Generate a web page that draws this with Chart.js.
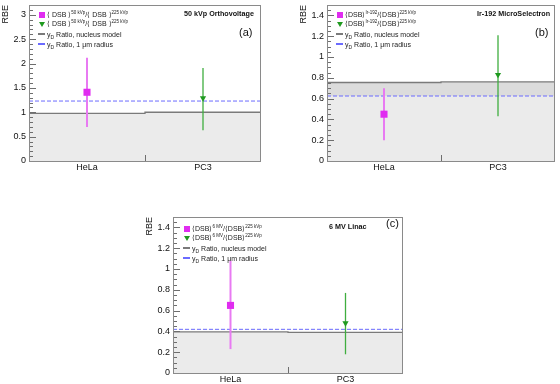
<!DOCTYPE html>
<html lang="en">
<head>
  <meta charset="UTF-8" />
  <title>RBE - DSB ratios</title>
  <script src="https://cdn.jsdelivr.net/npm/chart.js"></script>
  <style>
    body { margin: 0; background: #fff; font-family: 'Liberation Sans', Arial, sans-serif; }
    #wrap { position: relative; width: 560px; height: 384px; overflow: hidden; background: #fff; }
    canvas { position: absolute; }
    .lbl { position: absolute; white-space: nowrap; color: #111; line-height: 1; }
    .ttl { font-size: 7.2px; font-weight: bold; }
    .tag { font-size: 11px; }
    .leg { position: absolute; font-size: 7px; color: #222; white-space: nowrap; }
    .leg div { position: absolute; left: 0; height: 8px; display: flex; align-items: center; }
    .leg .sym { width: 9px; flex: none; display: flex; justify-content: center; align-items: center; margin-right: 1px; }
    .leg sup { font-size: 4.5px; vertical-align: 3px; line-height: 0; }
    .leg sub { font-size: 5px; vertical-align: -2px; line-height: 0; }
    .sq { width: 6px; height: 6px; background: #e02cf0; }
    .tri { width: 0; height: 0; border-left: 3px solid transparent; border-right: 3px solid transparent; border-top: 5px solid #1f9a1f; }
    .ln { width: 7px; height: 1.5px; }
    .grey { background: #7a7a7a; }
    .blue { background: #6b6bff; }
  </style>
</head>
<body>
<div id="wrap">
  <canvas id="chartA" width="266" height="184" style="left:0;top:0"></canvas>
  <canvas id="chartB" width="262" height="184" style="left:298px;top:0"></canvas>
  <canvas id="chartC" width="264" height="184" style="left:144px;top:212px"></canvas>

  <div class="leg" style="left:37px;top:11px">
    <div style="top:0"><span class="sym"><i class="sq"></i></span><span>⟨ DSB ⟩<sup>50 kVp</sup>/⟨ DSB ⟩<sup>225 kVp</sup></span></div>
    <div style="top:9px"><span class="sym"><i class="tri"></i></span><span>⟨ DSB ⟩<sup>50 kVp</sup>/⟨ DSB ⟩<sup>225 kVp</sup></span></div>
    <div style="top:19px"><span class="sym"><i class="ln grey"></i></span><span>y<sub>D</sub> Ratio, nucleus model</span></div>
    <div style="top:29px"><span class="sym"><i class="ln blue"></i></span><span>y<sub>D</sub> Ratio, 1 μm radius</span></div>
  </div>
  <div class="lbl ttl" style="left:184px;top:10px">50 kVp Orthovoltage</div>
  <div class="lbl tag" style="left:239px;top:27px">(a)</div>

  <div class="leg" style="left:335px;top:11px">
    <div style="top:0"><span class="sym"><i class="sq"></i></span><span>⟨DSB⟩<sup>Ir-192</sup>/⟨DSB⟩<sup>225 kVp</sup></span></div>
    <div style="top:9px"><span class="sym"><i class="tri"></i></span><span>⟨DSB⟩<sup>Ir-192</sup>/⟨DSB⟩<sup>225 kVp</sup></span></div>
    <div style="top:19px"><span class="sym"><i class="ln grey"></i></span><span>y<sub>D</sub> Ratio, nucleus model</span></div>
    <div style="top:29px"><span class="sym"><i class="ln blue"></i></span><span>y<sub>D</sub> Ratio, 1 μm radius</span></div>
  </div>
  <div class="lbl ttl" style="left:477px;top:10px">Ir-192 MicroSelectron</div>
  <div class="lbl tag" style="left:535px;top:27px">(b)</div>

  <div class="leg" style="left:182px;top:225px">
    <div style="top:0"><span class="sym"><i class="sq"></i></span><span>⟨DSB⟩<sup>6 MV</sup>/⟨DSB⟩<sup>225 kVp</sup></span></div>
    <div style="top:9px"><span class="sym"><i class="tri"></i></span><span>⟨DSB⟩<sup>6 MV</sup>/⟨DSB⟩<sup>225 kVp</sup></span></div>
    <div style="top:19px"><span class="sym"><i class="ln grey"></i></span><span>y<sub>D</sub> Ratio, nucleus model</span></div>
    <div style="top:29px"><span class="sym"><i class="ln blue"></i></span><span>y<sub>D</sub> Ratio, 1 μm radius</span></div>
  </div>
  <div class="lbl ttl" style="left:329px;top:223px">6 MV Linac</div>
  <div class="lbl tag" style="left:386px;top:218px">(c)</div>
</div>

<script>
  const categories = ['HeLa', 'PC3'];

  // (a) 50 kVp orthovoltage
  const rbeA = [1.41, 1.29];
  const errLowA = [0.70, 0.63];
  const errHighA = [2.12, 1.91];
  const nucleusA = [0.975, 1.0];
  const micronA = 1.23;
  const yTicksA = [0, 0.5, 1, 1.5, 2, 2.5, 3];

  // (b) Ir-192 microSelectron
  const rbeB = [0.45, 0.83];
  const errLowB = [0.20, 0.43];
  const errHighB = [0.70, 1.21];
  const nucleusB = [0.755, 0.76];
  const micronB = 0.625;
  const yTicksB = [0, 0.2, 0.4, 0.6, 0.8, 1, 1.2, 1.4];

  // (c) 6 MV linac
  const rbeC = [0.65, 0.48];
  const errLowC = [0.23, 0.18];
  const errHighC = [1.08, 0.77];
  const nucleusC = [0.395, 0.39];
  const micronC = 0.42;
  const yTicksC = [0, 0.2, 0.4, 0.6, 0.8, 1, 1.2, 1.4];

  const FONT = "'Liberation Sans', Arial, sans-serif";

  // histogram-style steps: one flat segment per category bin
  function steps(vals) {
    const pts = [];
    vals.forEach((v, i) => { pts.push({ x: i, y: v }, { x: i + 1, y: v }); });
    return pts;
  }

  // frame box + ROOT-like inner ticks
  const framePlugin = {
    id: 'frame',
    afterDatasetsDraw(chart, args, opts) {
      const { ctx, chartArea: a, scales: { x, y } } = chart;
      ctx.save();
      ctx.strokeStyle = '#6e6e6e';
      ctx.lineWidth = 1;
      ctx.beginPath();
      const n = Math.round(y.max / opts.minor);
      for (let k = 0; k <= n; k++) {
        const v = k * opts.minor;
        const major = opts.major.some(m => Math.abs(m - v) < 1e-6);
        const py = Math.round(y.getPixelForValue(v)) + 0.5;
        ctx.moveTo(a.left, py);
        ctx.lineTo(a.left + (major ? 7 : 4), py);
      }
      for (let i = 1; i < categories.length; i++) {
        const px = Math.round(x.getPixelForValue(i)) + 0.5;
        ctx.moveTo(px, a.bottom);
        ctx.lineTo(px, a.bottom - 6);
      }
      ctx.stroke();
      ctx.strokeStyle = '#8a8a8a';
      ctx.strokeRect(Math.round(a.left) + 0.5, Math.round(a.top) + 0.5, Math.round(a.width) - 1, Math.round(a.height));
      ctx.restore();
    }
  };

  function makePanel(id, p) {
    const micronPts = steps(categories.map(() => p.micron));
    new Chart(document.getElementById(id), {
      type: 'line',
      data: {
        datasets: [
          { data: steps(p.nucleus), borderWidth: 0, pointRadius: 0, fill: 'origin', backgroundColor: '#ebebeb', order: 7 },
          { data: steps(p.nucleus), borderWidth: 0, pointRadius: 0, fill: { target: 3, above: '#dcdcdc', below: 'rgba(0,0,0,0)' }, order: 6 },
          { data: steps(p.nucleus), borderColor: '#7a7a7a', borderWidth: 1.3, pointRadius: 0, fill: false, order: 5 },
          { data: micronPts, borderColor: '#6b6bff', borderWidth: 1, borderDash: [4, 2], pointRadius: 0, fill: false, order: 4 },
          { data: [{ x: 0.5, y: p.low[0] }, { x: 0.5, y: p.high[0] }], borderColor: '#e87af2', borderWidth: 2, pointRadius: 0, fill: false, order: 3 },
          { data: [{ x: 1.5, y: p.low[1] }, { x: 1.5, y: p.high[1] }], borderColor: '#3fae3f', borderWidth: 1.3, pointRadius: 0, fill: false, order: 2 },
          { data: [{ x: 0.5, y: p.rbe[0] }], showLine: false, pointStyle: 'rect', pointRadius: 5, backgroundColor: '#e02cf0', borderWidth: 0, order: 1 },
          { data: [{ x: 1.5, y: p.rbe[1] }], showLine: false, pointStyle: 'triangle', rotation: 180, pointRadius: 3.6, backgroundColor: '#1f9a1f', borderColor: '#1f9a1f', borderWidth: 0, order: 0 }
        ]
      },
      options: {
        responsive: false,
        animation: false,
        events: [],
        layout: { padding: { top: 1, right: p.padRight, left: 0, bottom: 0 } },
        plugins: {
          legend: { display: false },
          tooltip: { enabled: false },
          frame: { minor: p.minor, major: p.ticks }
        },
        scales: {
          x: {
            type: 'linear', min: 0, max: categories.length,
            grid: { display: false, drawTicks: false }, border: { display: false },
            afterBuildTicks: s => { s.ticks = categories.map((c, i) => ({ value: i + 0.5 })); },
            afterFit: s => { s.height = 23; s.paddingLeft = 0; s.paddingRight = 0; },
            ticks: { callback: v => categories[Math.floor(v)], font: { size: 9, family: FONT }, color: '#111', padding: 1, autoSkip: false, maxRotation: 0 }
          },
          y: {
            min: 0, max: p.ymax,
            grid: { display: false, drawTicks: false }, border: { display: false },
            afterBuildTicks: s => { s.ticks = p.ticks.map(v => ({ value: v })); },
            afterFit: s => { s.width = 29; s.paddingTop = 0; s.paddingBottom = 0; },
            ticks: { callback: v => String(v), font: { size: 9, family: FONT }, color: '#111', padding: 3, autoSkip: false },
            title: { display: true, text: 'RBE', align: 'end', font: { size: 9, family: FONT }, color: '#111', padding: 0 }
          }
        }
      },
      plugins: [framePlugin]
    });
  }

  makePanel('chartA', { rbe: rbeA, low: errLowA, high: errHighA, nucleus: nucleusA, micron: micronA, ticks: yTicksA, ymax: 3.2, minor: 0.1, padRight: 4 });
  makePanel('chartB', { rbe: rbeB, low: errLowB, high: errHighB, nucleus: nucleusB, micron: micronB, ticks: yTicksB, ymax: 1.5, minor: 0.05, padRight: 2 });
  makePanel('chartC', { rbe: rbeC, low: errLowC, high: errHighC, nucleus: nucleusC, micron: micronC, ticks: yTicksC, ymax: 1.5, minor: 0.05, padRight: 4 });
</script>
</body>
</html>
